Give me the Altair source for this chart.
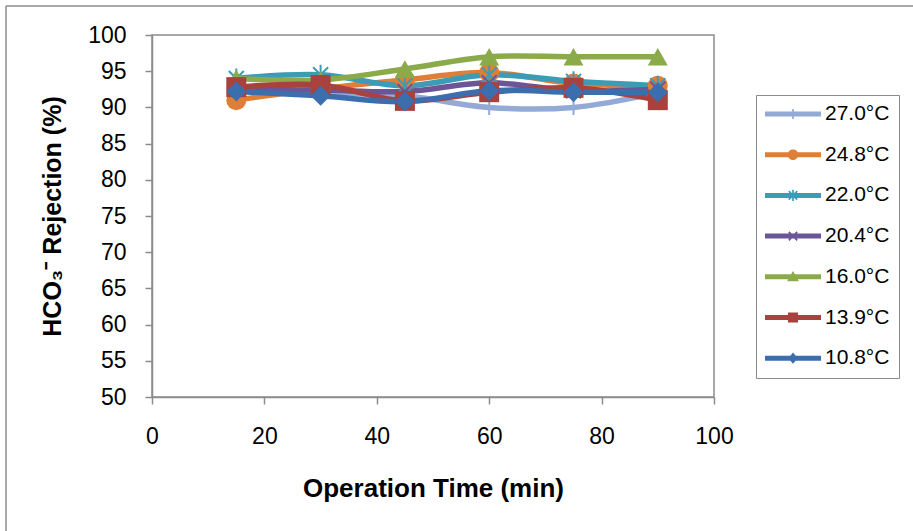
import math

import altair as alt
import pandas as pd

# Sampling times (min) and HCO3- rejection (%) for each feed temperature
times = [15, 30, 45, 60, 75, 90]
series = ["27.0°C", "24.8°C", "22.0°C", "20.4°C", "16.0°C", "13.9°C", "10.8°C"]
rej_27_0 = [92.3, 92.0, 91.6, 90.0, 90.0, 92.0]
rej_24_8 = [91.0, 92.6, 93.8, 94.8, 93.3, 93.0]
rej_22_0 = [94.0, 94.5, 93.0, 94.5, 93.6, 93.0]
rej_20_4 = [92.5, 92.4, 92.2, 93.4, 92.3, 92.5]
rej_16_0 = [94.0, 93.8, 95.3, 97.0, 97.0, 97.0]
rej_13_9 = [92.8, 93.1, 90.9, 92.1, 92.7, 91.0]
rej_10_8 = [92.2, 91.6, 90.8, 92.3, 92.1, 92.1]
colors = ["#93AAD6", "#E17E35", "#3D9CB5", "#6B5596", "#8BAA4A", "#A8423F", "#3C6EAE"]

all_values = [rej_27_0, rej_24_8, rej_22_0, rej_20_4, rej_16_0, rej_13_9, rej_10_8]
df = pd.DataFrame(
    [
        {"temp": name, "order": i, "time": t, "rej": v}
        for i, (name, vals) in enumerate(zip(series, all_values))
        for t, v in zip(times, vals)
    ]
)


# --- marker outlines as filled SVG paths (unit box -1..1) ---
def poly(pts):
    area = sum(x1 * y2 - x2 * y1 for (x1, y1), (x2, y2) in zip(pts, pts[1:] + pts[:1]))
    if area < 0:
        pts = pts[::-1]
    return "M" + "L".join(f"{x:.3f},{y:.3f}" for x, y in pts) + "Z"


def bar(x1, y1, x2, y2, w):
    dx, dy = x2 - x1, y2 - y1
    length = math.hypot(dx, dy)
    nx, ny = -dy / length * w / 2, dx / length * w / 2
    return poly([(x1 + nx, y1 + ny), (x2 + nx, y2 + ny), (x2 - nx, y2 - ny), (x1 - nx, y1 - ny)])


def disc(r, n=28):
    return poly([(r * math.cos(2 * math.pi * k / n), r * math.sin(2 * math.pi * k / n)) for k in range(n)])


def plus(a, w):
    return bar(-a, 0, a, 0, w) + bar(0, -a, 0, a, w)


def cross(a, w):
    return bar(-a, -a, a, a, w) + bar(-a, a, a, -a, w)


def star(v, a, w):
    return bar(0, -v, 0, v, w) + cross(a, w)


# markers on the plot (size 400 -> 10 px per unit)
plot_shapes = [
    plus(0.75, 0.2),
    "circle",
    star(1.0, 0.75, 0.2),
    cross(0.75, 0.2),
    "triangle-up",
    "square",
    "diamond",
]

# legend keys: a thick line with a small marker in the middle (size 3136 -> 28 px per unit)
key_line = poly([(-1, -0.09), (1, -0.09), (1, 0.09), (-1, 0.09)])
legend_shapes = [
    key_line + bar(0, -0.18, 0, 0.18, 0.06),
    key_line + disc(0.19),
    key_line + star(0.2, 0.15, 0.06),
    key_line + cross(0.15, 0.06),
    key_line + poly([(0, -0.21), (0.21, 0.16), (-0.21, 0.16)]),
    key_line + poly([(-0.18, -0.18), (0.18, -0.18), (0.18, 0.18), (-0.18, 0.18)]),
    key_line + poly([(0, -0.2), (0.17, 0), (0, 0.2), (-0.17, 0)]),
]

FONT = "Liberation Sans"
GREY = "#8c8c8c"

x_enc = alt.X(
    "time:Q",
    scale=alt.Scale(domain=[0, 100], nice=False),
    axis=alt.Axis(
        values=[0, 20, 40, 60, 80, 100],
        title="Operation Time (min)",
        titleFontSize=26,
        titlePadding=27,
        labelPadding=21,
        labelFlush=False,
    ),
)
y_enc = alt.Y(
    "rej:Q",
    scale=alt.Scale(domain=[50, 100], nice=False, zero=False),
    axis=alt.Axis(
        values=list(range(50, 101, 5)),
        title="HCO₃⁻ Rejection (%)",
        titleFontSize=25,
        titlePadding=22,
        labelPadding=19,
    ),
)
color_enc = alt.Color("temp:N", scale=alt.Scale(domain=series, range=colors), legend=None)

base = alt.Chart(df)

lines = base.mark_line(interpolate="catmull-rom", strokeWidth=5.5, strokeCap="round").encode(
    x=x_enc, y=y_enc, color=color_enc, order="time:Q"
)

markers = base.mark_point(filled=True, opacity=1, size=400, strokeWidth=0).encode(
    x=x_enc,
    y=y_enc,
    color=color_enc,
    shape=alt.Shape("temp:N", scale=alt.Scale(domain=series, range=plot_shapes), legend=None),
)

legend_props = dict(
    title=None,
    orient="none",
    direction="vertical",
    legendX=604,
    legendY=60,
    padding=9,
    symbolSize=3136,
    symbolStrokeWidth=0,
    symbolOffset=0,
    labelOffset=4,
    labelFont=FONT,
    labelFontSize=21,
    labelColor="black",
    labelLimit=200,
    labelExpr="datum.label + '\u2002'",
    strokeColor=GREY,
    fillColor="white",
    clipHeight=20,
    rowPadding=19.7,
)

legend_keys = base.transform_filter("false").mark_point(filled=True, opacity=1).encode(
    x=x_enc,
    y=y_enc,
    fill=alt.Fill("temp:N", scale=alt.Scale(domain=series, range=colors), legend=alt.Legend(**legend_props)),
    shape=alt.Shape("temp:N", scale=alt.Scale(domain=series, range=legend_shapes), legend=alt.Legend(**legend_props)),
)

frame_df = pd.DataFrame({"edge": [0]})
frame_left = alt.Chart(frame_df).mark_rule(color=GREY, strokeWidth=1.5).encode(
    x=alt.value(-146), y=alt.value(-29), y2=alt.value(496)
)
frame_top = alt.Chart(frame_df).mark_rule(color=GREY, strokeWidth=1.5).encode(
    x=alt.value(-146), x2=alt.value(761), y=alt.value(-29)
)

chart = (
    alt.layer(frame_left, frame_top, lines, markers, legend_keys)
    .resolve_scale(shape="independent", fill="independent")
    .properties(
        width=562,
        height=362,
        autosize=alt.AutoSizeParams(type="none"),
        padding={"left": 152, "top": 35, "right": 199, "bottom": 134},
        background="white",
    )
    .configure_view(stroke=GREY, strokeWidth=1.5)
    .configure_axis(
        grid=False,
        domainColor=GREY,
        domainWidth=1.5,
        tickColor=GREY,
        tickWidth=1.5,
        tickSize=7,
        labelFont=FONT,
        labelFontSize=23,
        labelColor="black",
        titleFont=FONT,
        titleFontWeight="bold",
        titleColor="black",
    )
)

chart.save("out.html", embed_options={"renderer": "svg", "actions": False})
